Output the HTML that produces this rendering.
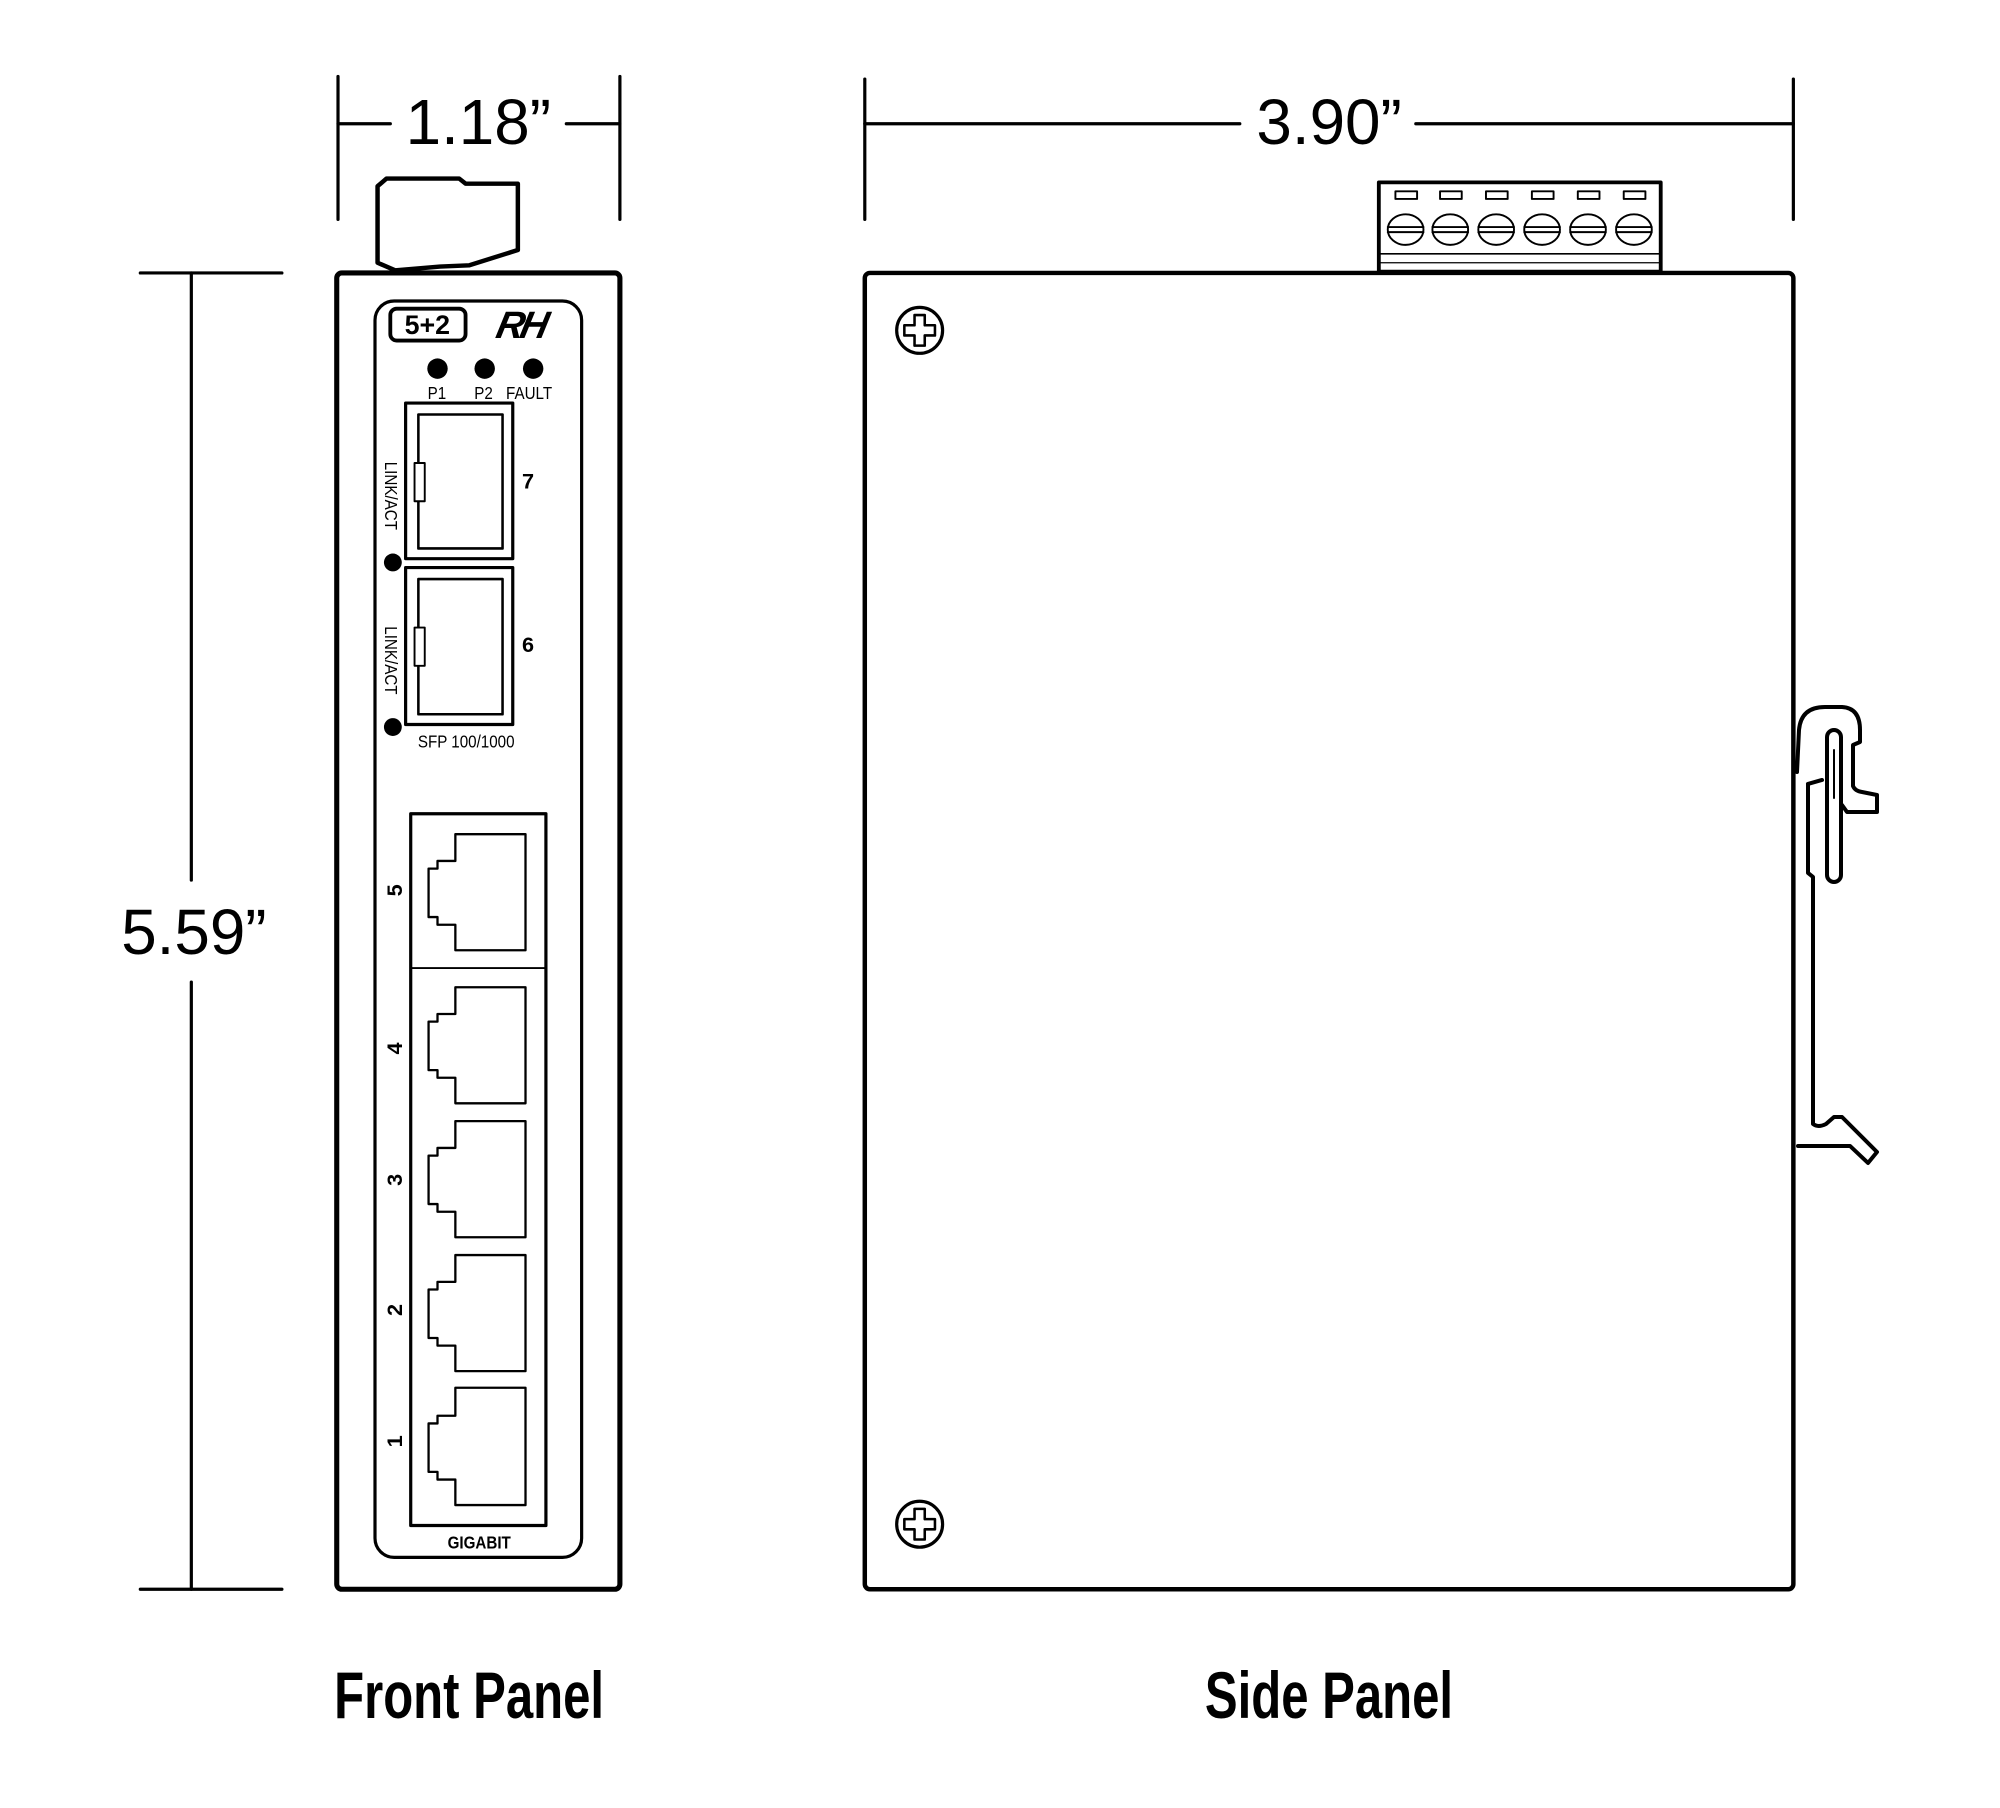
<!DOCTYPE html>
<html><head><meta charset="utf-8"><style>
html,body{margin:0;padding:0;background:#fff}
svg{display:block}
</style></head><body>
<svg width="2000" height="1808" viewBox="0 0 1568 1417.5" preserveAspectRatio="none" xmlns="http://www.w3.org/2000/svg">
<g fill="none" stroke="#000" stroke-linecap="round" stroke-linejoin="round">
<line x1="265" y1="60" x2="265" y2="172" stroke-width="2.5"/>
<line x1="486" y1="60" x2="486" y2="172" stroke-width="2.5"/>
<line x1="265" y1="97" x2="306" y2="97" stroke-width="2.5"/>
<line x1="444" y1="97" x2="486" y2="97" stroke-width="2.5"/>
<line x1="110" y1="214" x2="221" y2="214" stroke-width="2.5"/>
<line x1="110" y1="1246" x2="221" y2="1246" stroke-width="2.5"/>
<line x1="150" y1="214" x2="150" y2="690" stroke-width="2.5"/>
<line x1="150" y1="770" x2="150" y2="1246" stroke-width="2.5"/>
<line x1="678" y1="62" x2="678" y2="172" stroke-width="2.5"/>
<line x1="1406" y1="62" x2="1406" y2="172" stroke-width="2.5"/>
<line x1="678" y1="97" x2="972" y2="97" stroke-width="2.5"/>
<line x1="1110" y1="97" x2="1406" y2="97" stroke-width="2.5"/>

<path d="M296 146 L303 140 L360 140 L365 144 L406 144 L406 196 L368 208 L345 209 L310 212 L296 206 Z" stroke-width="3.5"/>
<rect x="264" y="214" width="222" height="1032" rx="4" stroke-width="4"/>
<rect x="294" y="236" width="162" height="985" rx="15" stroke-width="2.5"/>
<rect x="306" y="242" width="59" height="25" rx="5" stroke-width="3"/>
<rect x="318" y="316" width="84" height="122" stroke-width="2.5"/>
<rect x="328" y="325" width="66" height="105" stroke-width="2"/>
<rect x="325" y="363" width="8" height="30" stroke-width="1.5" fill="#fff"/>
<rect x="318" y="445" width="84" height="123" stroke-width="2.5"/>
<rect x="328" y="454" width="66" height="106" stroke-width="2"/>
<rect x="325" y="492" width="8" height="30" stroke-width="1.5" fill="#fff"/>
<rect x="322" y="638" width="106" height="558" stroke-width="2.5"/>
<line x1="322" y1="759" x2="428" y2="759" stroke-width="1.5"/>
<g stroke-width="1.8">
<path d="M357 654 H412 V745 H357 V725 H343 V719 H336 V681 H343 V675 H357 Z"/>
<path d="M357 774 H412 V865 H357 V845 H343 V839 H336 V801 H343 V795 H357 Z"/>
<path d="M357 879 H412 V970 H357 V950 H343 V944 H336 V906 H343 V900 H357 Z"/>
<path d="M357 984 H412 V1075 H357 V1055 H343 V1049 H336 V1011 H343 V1005 H357 Z"/>
<path d="M357 1088 H412 V1180 H357 V1160 H343 V1154 H336 V1116 H343 V1110 H357 Z"/>
</g>

<rect x="678" y="214" width="728" height="1032" rx="4" stroke-width="3.5"/>
<rect x="1081" y="143" width="221" height="70" stroke-width="3"/>
<line x1="1082" y1="199" x2="1301" y2="199" stroke-width="1.2"/>
<line x1="1082" y1="206" x2="1301" y2="206" stroke-width="1"/>
<g stroke-width="1.5">
<rect x="1094" y="150" width="17" height="6"/><rect x="1129" y="150" width="17" height="6"/><rect x="1165" y="150" width="17" height="6"/><rect x="1201" y="150" width="17" height="6"/><rect x="1237" y="150" width="17" height="6"/><rect x="1273" y="150" width="17" height="6"/>
<ellipse cx="1102" cy="180" rx="14" ry="12"/><ellipse cx="1137" cy="180" rx="14" ry="12"/><ellipse cx="1173" cy="180" rx="14" ry="12"/><ellipse cx="1209" cy="180" rx="14" ry="12"/><ellipse cx="1245" cy="180" rx="14" ry="12"/><ellipse cx="1281" cy="180" rx="14" ry="12"/>
<path d="M1088 178H1116M1088 182H1116M1123 178H1151M1123 182H1151M1159 178H1187M1159 182H1187M1195 178H1223M1195 182H1223M1231 178H1259M1231 182H1259M1267 178H1295M1267 182H1295"/>
</g>
<g stroke-width="2.5">
<circle cx="721" cy="259" r="18"/>
<path d="M717 247 H725 V255 H733 V263 H725 V271 H717 V263 H709 V255 H717 Z" stroke-width="2"/>
<circle cx="721" cy="1195" r="18"/>
<path d="M717 1183 H725 V1191 H733 V1199 H725 V1207 H717 V1199 H709 V1191 H717 Z" stroke-width="2"/>
</g>
<g transform="scale(0.784)" stroke-width="4">
<path d="M1797 772 L1799 730 Q1801 707 1825 707 L1842 707 Q1860 708 1860 730 L1860 742 L1853 745 L1853 786 Q1855 791 1862 792 L1877 795 L1877 812 L1847 812 L1842 805"/>
<path d="M1808 784 L1822 780 M1808 784 L1808 873 L1813 877 L1813 1124 Q1818 1128 1826 1124 L1834 1117 L1842 1117 L1877 1152 L1868 1163 L1850 1146 L1798 1146"/>
<rect x="1827" y="730" width="14" height="152" rx="7"/>
<line x1="1834" y1="750" x2="1834" y2="798" stroke-width="2"/>
</g>
</g>

<g fill="#000">
<circle cx="343" cy="289" r="8"/><circle cx="380" cy="289" r="8"/><circle cx="418" cy="289" r="8"/>
<circle cx="308" cy="441" r="7"/><circle cx="308" cy="570" r="7"/>
</g>

<g font-family="'Liberation Sans', sans-serif" fill="#000">
<text x="375" y="113" font-size="50" text-anchor="middle">1.18”</text>
<text x="1042" y="113" font-size="50" text-anchor="middle">3.90”</text>
<text x="152" y="748" font-size="50" text-anchor="middle">5.59”</text>
<text x="335" y="262" font-size="21" font-weight="bold" text-anchor="middle">5+2</text>
<text x="386" y="265" font-size="30" font-weight="bold" font-style="italic" letter-spacing="-3" transform="skewX(-12) translate(58 0)">RH</text>
<g font-size="14" text-anchor="middle" transform="scale(0.85 1)">
<text x="403" y="313">P1</text><text x="446" y="313">P2</text><text x="488" y="313">FAULT</text>
<text x="430" y="586">SFP 100/1000</text>
<text x="442" y="1214" font-weight="bold">GIGABIT</text>
</g>
<text transform="translate(302 362) rotate(90) scale(0.85 1)" font-size="14">LINK/ACT</text>
<text transform="translate(302 491) rotate(90) scale(0.85 1)" font-size="14">LINK/ACT</text>
<g font-size="17" font-weight="bold" text-anchor="middle">
<text x="414" y="383">7</text><text x="414" y="511">6</text>
<text transform="translate(309 698) rotate(-90)" y="6">5</text>
<text transform="translate(309 822) rotate(-90)" y="6">4</text>
<text transform="translate(309 925) rotate(-90)" y="6">3</text>
<text transform="translate(309 1027) rotate(-90)" y="6">2</text>
<text transform="translate(309 1130) rotate(-90)" y="6">1</text>
</g>
<g font-size="52" font-weight="bold" text-anchor="middle" transform="scale(0.74 1)">
<text x="497" y="1347">Front Panel</text>
<text x="1408" y="1347">Side Panel</text>
</g>
</g>
</svg>
</body></html>
